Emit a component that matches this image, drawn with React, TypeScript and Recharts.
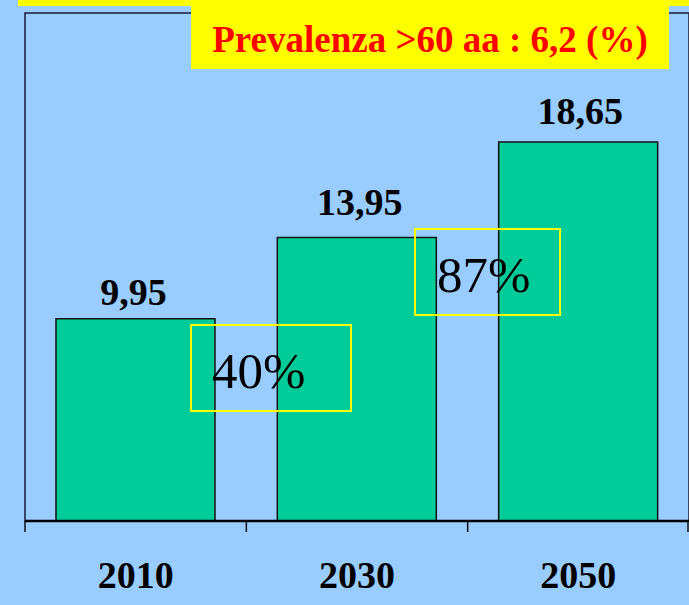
import React from "react";
import { BarChart, Bar, XAxis, YAxis, LabelList, ReferenceArea } from "recharts";

const years = ["2010", "2030", "2050"];
const cases = [9.95, 13.95, 18.65];
const increases = ["40%", "87%"];
const title = "Prevalenza >60 aa : 6,2 (%)";

// gap (px) between each bar top and its value label, as placed in the original slide
const labelGaps = [14, 23, 18];
const labelShifts = [-2, 3, 2];

const data = years.map((y, i) => ({ year: y, value: cases[i] }));

const SERIF = "'Liberation Serif', 'Times New Roman', serif";
const W = 689;
const H = 605;

const Tick = (props: any) => {
  const { x, y, payload, index } = props;
  const half =
    typeof payload?.offset === "number" && payload.offset > 0 ? payload.offset : 664 / 6;
  const last = index === years.length - 1;
  return (
    <g>
      <line x1={x - half} x2={x - half} y1={y} y2={y + 11} stroke="#111" strokeWidth={1.5} />
      {last && <line x1={x + half - 1} x2={x + half - 1} y1={y} y2={y + 11} stroke="#111" strokeWidth={1.5} />}
      <text
        x={x}
        y={y + 67}
        textAnchor="middle"
        fontFamily={SERIF}
        fontWeight="bold"
        fontSize={38}
        fill="#000"
      >
        {payload.value}
      </text>
    </g>
  );
};

const ValueLabel = (props: any) => {
  const { x, y, width, value, index } = props;
  const gap = labelGaps[index] ?? 14;
  const shift = labelShifts[index] ?? 0;
  return (
    <text
      x={Number(x) + Number(width) / 2 + shift}
      y={Number(y) - gap}
      textAnchor="middle"
      fontFamily={SERIF}
      fontWeight="bold"
      fontSize={38}
      fill="#000"
    >
      {Number(value).toFixed(2).replace(".", ",")}
    </text>
  );
};

export default function App() {
  return (
    <div
      style={{
        position: "absolute",
        left: 0,
        top: 0,
        width: W,
        height: H,
        background: "#99CCFF",
        overflow: "hidden",
      }}
    >
      <div style={{ position: "absolute", left: 18, top: 0, width: W - 18, height: 6, background: "#FFFF00" }} />
      <BarChart
        width={W}
        height={H}
        data={data}
        margin={{ top: 13, right: 0, bottom: 0, left: 25 }}
        barCategoryGap="14%"
      >
        <XAxis
          dataKey="year"
          height={84}
          tickLine={false}
          tickSize={0}
          tickMargin={0}
          axisLine={{ stroke: "#000", strokeWidth: 2.5 }}
          tick={<Tick />}
          interval={0}
        />
        <YAxis hide domain={[0, 25]} />
        <ReferenceArea
          x1="2010"
          x2="2050"
          y1={0}
          y2={25}
          fill="none"
          fillOpacity={0}
          stroke="#1a1a33"
          strokeWidth={1.5}
          ifOverflow="visible"
        />
        <Bar dataKey="value" fill="#00CC99" stroke="#111" strokeWidth={1.5} isAnimationActive={false}>
          <LabelList dataKey="value" content={<ValueLabel />} />
        </Bar>
      </BarChart>
      <div
        style={{
          position: "absolute",
          left: 191,
          top: 0,
          width: 478,
          height: 69,
          background: "#FFFF00",
        }}
      />
      <svg width={W} height={H} style={{ position: "absolute", left: 0, top: 0, pointerEvents: "none" }}>
        <text
          x={430}
          y={52}
          textAnchor="middle"
          fontFamily={SERIF}
          fontWeight="bold"
          fontSize={37}
          fill="#FF0000"
        >
          {title}
        </text>
        <rect x={191} y={325} width={160} height={86} fill="none" stroke="#FFFF00" strokeWidth={2} />
        <text x={212} y={388} fontFamily={SERIF} fontSize={51} fill="#000">
          {increases[0]}
        </text>
        <rect x={415} y={229} width={145} height={86} fill="none" stroke="#FFFF00" strokeWidth={2} />
        <text x={437} y={292} fontFamily={SERIF} fontSize={51} fill="#000">
          {increases[1]}
        </text>
      </svg>
    </div>
  );
}
